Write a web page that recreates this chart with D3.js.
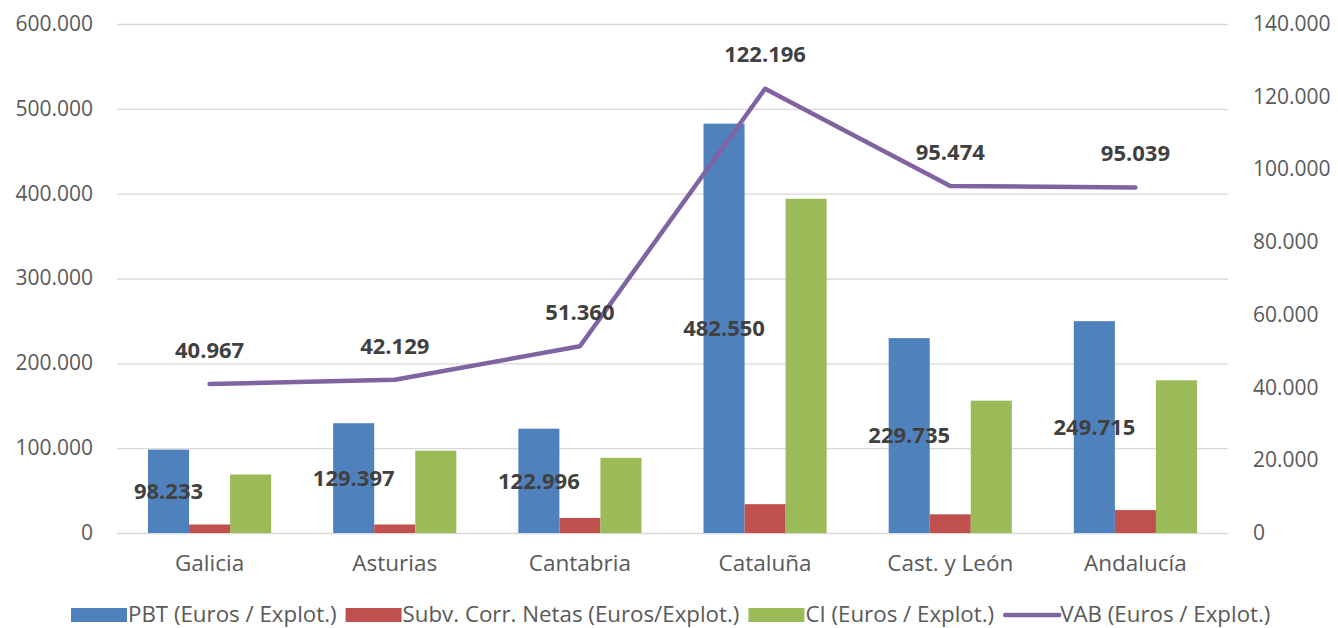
<!DOCTYPE html>
<html>
<head>
<meta charset="utf-8">
<script src="https://cdn.jsdelivr.net/npm/d3@7"></script>
<style>
  body { margin: 0; background: #fff; }
  svg { display: block; font-family: "Open Sans", "Liberation Sans", sans-serif; }
</style>
</head>
<body>
<svg width="1338" height="628"></svg>
<script>
var width = 1338;
var height = 628;

// data
var categories = ["Galicia", "Asturias", "Cantabria", "Cataluña", "Cast. y León", "Andalucía"];
var pbt = [98233, 129397, 122996, 482550, 229735, 249715];
var subv = [10000, 10000, 17700, 34000, 22000, 27000];
var ci = [69000, 97000, 88600, 394000, 156000, 180000];
var vab = [40967, 42129, 51360, 122196, 95474, 95039];
var leftTicks = [0, 100000, 200000, 300000, 400000, 500000, 600000];
var rightTicks = [0, 20000, 40000, 60000, 80000, 100000, 120000, 140000];
var seriesNames = ["PBT (Euros / Explot.)", "Subv. Corr. Netas (Euros/Explot.)", "CI (Euros / Explot.)", "VAB (Euros / Explot.)"];
var colors = ["#4F81BD", "#C0504D", "#9BBB59", "#8064A2"];

var locale = d3.formatLocale({decimal: ",", thousands: ".", grouping: [3], currency: ["", "€"]});
var fmt = locale.format(",.0f");

var plotLeft = 117, plotRight = 1228, plotTop = 24, plotBottom = 533;

var chart = d3.select("svg");

var x = d3.scaleBand().domain(categories).range([plotLeft, plotRight]);
var xs = d3.scaleBand().domain([0, 1, 2]).range([31, x.bandwidth() - 31]);
var yL = d3.scaleLinear().domain([0, 600000]).range([plotBottom, plotTop]);
var yR = d3.scaleLinear().domain([0, 140000]).range([plotBottom, plotTop]);

// gridlines
chart.append("g")
    .attr("transform", "translate(" + plotLeft + ",0)")
    .call(d3.axisLeft(yL).tickValues(leftTicks).tickSize(-(plotRight - plotLeft)).tickFormat(""))
    .call(function (g) {
        g.select(".domain").remove();
        g.selectAll("line").attr("stroke", "#d9d9d9").attr("stroke-width", 1.3);
    });

// left axis labels
chart.append("g")
    .selectAll("text")
    .data(leftTicks)
    .enter()
    .append("text")
    .attr("x", 93)
    .attr("y", function (d) { return yL(d); })
    .attr("dy", "0.33em")
    .attr("text-anchor", "end")
    .attr("font-size", "21px")
    .attr("fill", "#595959")
    .text(function (d) { return fmt(d); });

// right axis labels
chart.append("g")
    .selectAll("text")
    .data(rightTicks)
    .enter()
    .append("text")
    .attr("x", 1253)
    .attr("y", function (d) { return yR(d); })
    .attr("dy", "0.33em")
    .attr("text-anchor", "start")
    .attr("font-size", "21px")
    .attr("fill", "#595959")
    .text(function (d) { return fmt(d); });

// category labels
chart.append("g")
    .selectAll("text")
    .data(categories)
    .enter()
    .append("text")
    .attr("x", function (d) { return x(d) + x.bandwidth() / 2; })
    .attr("y", 563)
    .attr("dy", "0.35em")
    .attr("text-anchor", "middle")
    .attr("font-size", "22.5px")
    .attr("fill", "#595959")
    .text(function (d) { return d; });

// bars
var barSeries = [pbt, subv, ci];
barSeries.forEach(function (values, s) {
    chart.append("g")
        .selectAll("rect")
        .data(values)
        .enter()
        .append("rect")
        .attr("x", function (d, i) { return x(categories[i]) + xs(s); })
        .attr("width", xs.bandwidth())
        .attr("y", function (d) { return yL(d); })
        .attr("height", function (d) { return yL(0) - yL(d); })
        .attr("fill", colors[s]);
});

// VAB line
var line = d3.line()
    .x(function (d, i) { return x(categories[i]) + x.bandwidth() / 2; })
    .y(function (d) { return yR(d); });

chart.append("path")
    .datum(vab)
    .attr("d", line)
    .attr("fill", "none")
    .attr("stroke", colors[3])
    .attr("stroke-width", 4.5)
    .attr("stroke-linejoin", "round")
    .attr("stroke-linecap", "round");

// PBT labels, centered in the bar
chart.append("g")
    .selectAll("text")
    .data(pbt)
    .enter()
    .append("text")
    .attr("x", function (d, i) { return x(categories[i]) + xs(0) + xs.bandwidth() / 2; })
    .attr("y", function (d) { return (yL(d) + yL(0)) / 2; })
    .attr("dy", "0.35em")
    .attr("text-anchor", "middle")
    .attr("font-size", "22px")
    .attr("font-weight", "bold")
    .attr("fill", "#404040")
    .text(function (d) { return fmt(d); });

// VAB labels, above the point
chart.append("g")
    .selectAll("text")
    .data(vab)
    .enter()
    .append("text")
    .attr("x", function (d, i) { return x(categories[i]) + x.bandwidth() / 2; })
    .attr("y", function (d) { return yR(d) - 34; })
    .attr("dy", "0.35em")
    .attr("text-anchor", "middle")
    .attr("font-size", "22px")
    .attr("font-weight", "bold")
    .attr("fill", "#404040")
    .text(function (d) { return fmt(d); });

// legend
var legend = chart.append("g");
var lx = 71;
var ly = 614;
seriesNames.forEach(function (name, i) {
    if (i < 3) {
        legend.append("rect")
            .attr("x", lx)
            .attr("y", ly - 6)
            .attr("width", 56)
            .attr("height", 14)
            .attr("fill", colors[i]);
    } else {
        legend.append("line")
            .attr("x1", lx + 2)
            .attr("x2", lx + 56)
            .attr("y1", ly + 1)
            .attr("y2", ly + 1)
            .attr("stroke", colors[i])
            .attr("stroke-width", 4.5)
            .attr("stroke-linecap", "round");
    }
    var t = legend.append("text")
        .attr("x", lx + 57)
        .attr("y", ly)
        .attr("dy", "0.35em")
        .attr("font-size", "22.3px")
        .attr("fill", "#595959")
        .text(name);
    lx += 57 + t.node().getComputedTextLength() + 9;
});
</script>
</body>
</html>
